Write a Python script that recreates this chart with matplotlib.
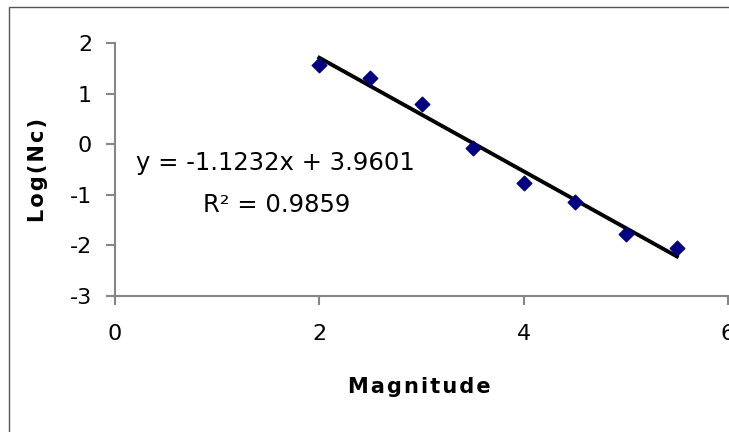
import numpy as np
import matplotlib
matplotlib.use("Agg")
import matplotlib.pyplot as plt
from matplotlib.patches import Rectangle

magnitude = [2.0, 2.5, 3.0, 3.5, 4.0, 4.5, 5.0, 5.5]
log_nc = [1.57, 1.32, 0.80, -0.07, -0.77, -1.14, -1.78, -2.06]
slope, intercept = -1.1232, 3.9601
r2 = 0.9859

plt.rcParams["font.family"] = ["DejaVu Sans"]
plt.rcParams["axes.unicode_minus"] = False
gray = "#868686"

fig = plt.figure(figsize=(7.29, 4.32), dpi=100)
ax = fig.add_axes([115/729, 1-296/432, (728-115)/729, (296-43.3)/432])

# chart border (clipped at the right/bottom like the original)
fig.patches.append(Rectangle((9/729, -0.1), 1.2, 1-7/432+0.1, transform=fig.transFigure,
                             fill=False, edgecolor="#555555", lw=1))

xfit = np.array([min(magnitude), max(magnitude)])
ax.plot(xfit, slope*xfit+intercept, color="black", lw=2.8, zorder=2)
ax.scatter(magnitude, log_nc, marker="D", s=55, color="#000080", zorder=3)

ax.set_xlim(0, 6)
ax.set_ylim(-3, 2)
ax.set_xticks([0, 2, 4, 6])
ax.set_yticks([-3, -2, -1, 0, 1, 2])
for s in ["top", "right"]:
    ax.spines[s].set_visible(False)
for s in ["left", "bottom"]:
    ax.spines[s].set_color(gray)
    ax.spines[s].set_linewidth(1.5)
ax.tick_params(axis="both", colors=gray, length=6.5, width=1.5, labelcolor="black", labelsize=16)
ax.tick_params(axis="y", pad=10)
ax.tick_params(axis="x", pad=14)
for lab in ax.get_xticklabels():
    lab.set_clip_on(False)

ax.set_xlabel("\u200a".join("Magnitude"), fontsize=15, fontweight="bold")
ax.set_ylabel("\u200a".join("Log(Nc)"), fontsize=15, fontweight="bold")
ax.xaxis.set_label_coords(0.497, 1 - (387-43.3)/(296-43.3), transform=ax.transAxes)
ax.yaxis.set_label_coords((38-115)/(728-115), 0.5, transform=ax.transAxes)
ax.xaxis.label.set_va("center")
ax.yaxis.label.set_va("center")

ax.text(1.57, -0.37, "y = -1.1232x + 3.9601", fontsize=17.5, ha="center", va="center")
ax.text(1.58, -1.2, "R\u00b2 = %.4f" % r2, fontsize=17.5, ha="center", va="center")

fig.savefig("out.png", dpi=100)
